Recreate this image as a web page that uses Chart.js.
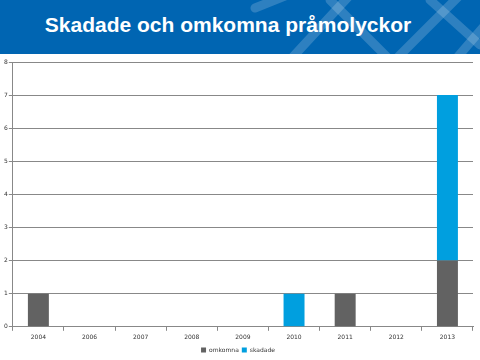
<!DOCTYPE html>
<html>
<head>
<meta charset="utf-8">
<script src="https://cdn.jsdelivr.net/npm/chart.js@4"></script>
<style>
    body { margin: 0; width: 480px; height: 360px; background: #fff; overflow: hidden; }
    #header {
        position: relative; width: 480px; height: 54px; background: #0065b2; overflow: hidden;
    }
    #header svg { position: absolute; left: 0; top: 0; }
    #header h1 {
        position: absolute; left: 0; width: 456px; top: 13px; margin: 0; text-align: center;
        font: bold 21px "Liberation Sans", Arial, sans-serif; color: #fff;
    }
    #wrap { position: relative; width: 480px; height: 306px; overflow: hidden; }
</style>
</head>
<body>
<div id="header">
    <svg width="480" height="54">
        <g stroke="#ffffff" stroke-opacity="0.18" stroke-width="9" fill="none" stroke-linecap="round">
            <line x1="255" y1="8" x2="300" y2="-10" />
            <line x1="290" y1="60" x2="350" y2="-5" />
            <line x1="330" y1="0" x2="390" y2="60" />
            <line x1="395" y1="60" x2="460" y2="-5" />
            <line x1="430" y1="0" x2="480" y2="45" />
            <line x1="455" y1="60" x2="485" y2="25" />
        </g>
    </svg>
    <h1>Skadade och omkomna pråmolyckor</h1>
</div>
<div id="wrap"><canvas id="chart" width="480" height="309"></canvas></div>
<script>
const years = ['2004', '2006', '2007', '2008', '2009', '2010', '2011', '2012', '2013'];
const omkomna = [1, 0, 0, 0, 0, 0, 1, 0, 2];
const skadade = [0, 0, 0, 0, 0, 1, 0, 0, 5];
const yTicks = [0, 1, 2, 3, 4, 5, 6, 7, 8];

const tinyFont = { family: 'Tahoma, "DejaVu Sans", sans-serif', size: 6 };

function showChart() {
    const canvas = document.getElementById('chart');

    const data = {
        labels: years,
        datasets: [{
            label: 'omkomna',
            backgroundColor: '#626262',
            data: omkomna,
            barPercentage: 0.82,
            categoryPercentage: 0.5
        }, {
            label: 'skadade',
            backgroundColor: '#009fdf',
            data: skadade,
            barPercentage: 0.82,
            categoryPercentage: 0.5
        }],
    };

    new Chart(canvas, {
        type: 'bar',
        data: data,
        options: {
            responsive: false,
            animation: false,
            layout: { padding: { left: 3, right: 7, top: 8, bottom: 0 } },
            plugins: {
                tooltip: { enabled: false },
                legend: {
                    position: 'bottom',
                    labels: {
                        boxWidth: 5, boxHeight: 5, padding: 3,
                        color: '#333', font: tinyFont
                    }
                }
            },
            scales: {
                x: {
                    stacked: true,
                    grid: {
                        offset: true, drawOnChartArea: false, tickLength: 4,
                        color: '#888'
                    },
                    border: { color: '#888' },
                    ticks: { color: '#333', font: tinyFont, padding: 3, maxRotation: 0 }
                },
                y: {
                    stacked: true,
                    min: 0, max: 8,
                    afterBuildTicks: axis => { axis.ticks = yTicks.map(v => ({ value: v })); },
                    grid: { color: '#888', lineWidth: 1, tickLength: 4 },
                    border: { color: '#888' },
                    ticks: { color: '#333', font: tinyFont, padding: 1 }
                }
            }
        }
    });
}

showChart();
</script>
</body>
</html>
